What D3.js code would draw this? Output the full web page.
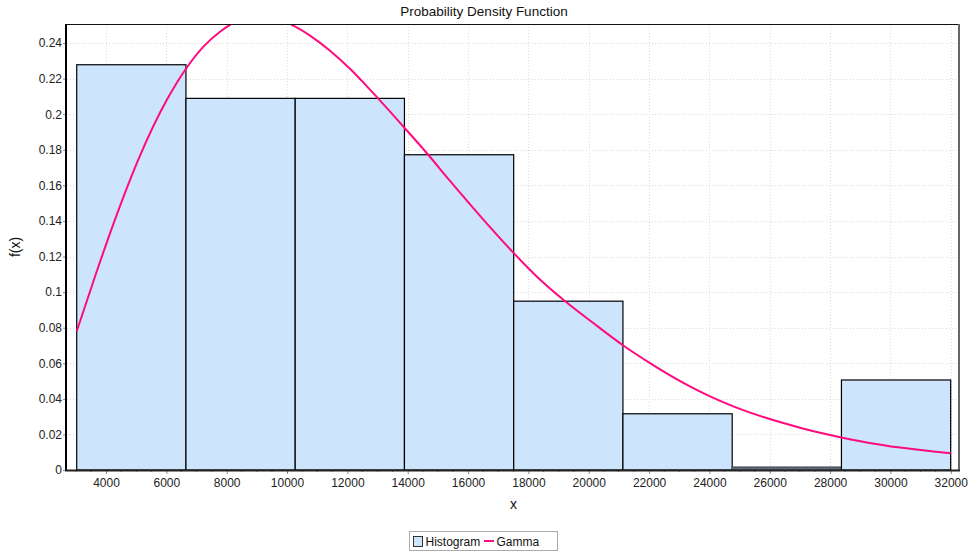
<!DOCTYPE html>
<html><head><meta charset="utf-8">
<script src="https://cdn.jsdelivr.net/npm/d3@7"></script>
<style>
body{margin:0;background:#fff;}
text{font-family:"Liberation Sans",Arial,sans-serif;}
</style></head>
<body><svg id="c" width="968" height="555"></svg>
<script>
// ---- data ----
const binEdges = [3029, 6650, 10271, 13892, 17513, 21134, 24755, 28376, 31997];
const histValues = [0.2278, 0.2089, 0.2089, 0.1772, 0.0949, 0.0316, 0.0, 0.0506];
const gammaX = [3029, 3650, 4255, 5117, 6022, 6628, 7238, 7789, 8176, 8600, 9050, 9500,
  10042, 10762, 11425, 12088, 12750, 13854, 14630, 15402, 16340, 17500, 18276, 19158,
  20152, 21146, 22031, 23135, 24020, 24792, 25899, 27003, 28107, 29214, 30318, 31422, 31997];
const gammaY = [0.078, 0.1095, 0.1388, 0.1763, 0.2082, 0.225, 0.2381, 0.2465, 0.2509, 0.2543, 0.2556, 0.2547,
  0.2512, 0.2442, 0.2357, 0.2255, 0.2138, 0.1931, 0.1782, 0.1625, 0.1440, 0.1222, 0.1088, 0.0957,
  0.0826, 0.0700, 0.0601, 0.0490, 0.0414, 0.0358, 0.0292, 0.0238, 0.0193, 0.0155, 0.0126, 0.0104, 0.0094];
const xTicks = [4000, 6000, 8000, 10000, 12000, 14000, 16000, 18000, 20000, 22000, 24000, 26000, 28000, 30000, 32000];
const yTicks = [0, 0.02, 0.04, 0.06, 0.08, 0.1, 0.12, 0.14, 0.16, 0.18, 0.2, 0.22, 0.24];
const title = "Probability Density Function";
const xLabel = "x", yLabel = "f(x)";
const legendLabels = ["Histogram", "Gamma"];

// ---- layout ----
const W = 968, H = 555;
const m = {left: 67, top: 24, right: 8, bottom: 85};
const svg = d3.select("#c");
const x = d3.scaleLinear().domain([2707, 32306]).range([m.left, W - m.right]);
const y = d3.scaleLinear().domain([0, 0.2507]).range([H - m.bottom, m.top]);
const x0 = m.left, x1 = W - m.right, y0 = H - m.bottom, y1 = m.top;

svg.append("defs").append("clipPath").attr("id", "clip")
  .append("rect").attr("x", x0).attr("y", y1).attr("width", x1 - x0).attr("height", y0 - y1);

// grid
const grid = svg.append("g").attr("stroke", "#dcdcdc").attr("stroke-dasharray", "1,2").attr("stroke-width", 1);
grid.selectAll(".gx").data(xTicks).join("line")
  .attr("x1", d => Math.round(x(d)) + 0.5).attr("x2", d => Math.round(x(d)) + 0.5)
  .attr("y1", y1).attr("y2", y0);
grid.selectAll(".gy").data(yTicks.slice(1)).join("line")
  .attr("y1", d => Math.round(y(d)) + 0.5).attr("y2", d => Math.round(y(d)) + 0.5)
  .attr("x1", x0).attr("x2", x1);

// bars
const bins = histValues.map((v, i) => ({x0: binEdges[i], x1: binEdges[i + 1], v}));
svg.append("g").selectAll("rect").data(bins).join("rect")
  .attr("x", d => x(d.x0)).attr("width", d => x(d.x1) - x(d.x0))
  .attr("y", d => Math.min(y(d.v), y(0) - 3)).attr("height", d => Math.max(y(0) - y(d.v), 3))
  .attr("fill", d => d.v === 0 ? "#5d6874" : "#cce5fc")
  .attr("stroke", d => d.v === 0 ? "#4a545e" : "#000").attr("stroke-width", 1.2);

// gamma curve
const pts = gammaX.map((d, i) => [d, gammaY[i]]);
svg.append("path").datum(pts)
  .attr("clip-path", "url(#clip)")
  .attr("fill", "none").attr("stroke", "#ff0a7f").attr("stroke-width", 2)
  .attr("d", d3.line().x(d => x(d[0])).y(d => y(d[1])).curve(d3.curveMonotoneX));

// frame
svg.append("line").attr("x1", x0).attr("x2", x1).attr("y1", y1 + 0.5).attr("y2", y1 + 0.5).attr("stroke", "#111");
svg.append("line").attr("x1", x1 - 1).attr("x2", x1 - 1).attr("y1", y1).attr("y2", y0).attr("stroke", "#666").attr("stroke-width", 2);

// axes
const xAxis = d3.axisBottom(x).tickValues(xTicks).tickSize(4).tickPadding(4).tickFormat(d3.format("d"));
const gx = svg.append("g").attr("transform", `translate(0,${y0})`).call(xAxis);
const yAxis = d3.axisLeft(y).tickValues(yTicks).tickSize(4).tickPadding(1).tickFormat(d => d === 0 ? "0" : String(+d.toFixed(2)));
const gy = svg.append("g").attr("transform", `translate(${x0},0)`).call(yAxis);
[gx, gy].forEach(g => {
  g.select(".domain").remove();
  g.selectAll(".tick line").attr("stroke", "#888");
  g.selectAll(".tick text").attr("font-size", 12).attr("fill", "#222").attr("font-family", "'Liberation Sans',Arial,sans-serif");
});
// minor ticks
const xMinor = d3.range(3000, 32306, 500).filter(v => v % 2000 !== 0);
svg.append("g").selectAll("line").data(xMinor).join("line")
  .attr("x1", d => x(d)).attr("x2", d => x(d)).attr("y1", y0).attr("y2", y0 + 2).attr("stroke", "#888");
const yMinor = d3.range(0.004, 0.2507, 0.004).filter(v => Math.abs(v / 0.02 - Math.round(v / 0.02)) > 1e-6);
svg.append("g").selectAll("line").data(yMinor).join("line")
  .attr("y1", d => y(d)).attr("y2", d => y(d)).attr("x1", x0 - 2).attr("x2", x0).attr("stroke", "#888");
// axis lines
svg.append("line").attr("x1", x0 - 1).attr("x2", x0 - 1).attr("y1", y1).attr("y2", y0 + 1).attr("stroke", "#000").attr("stroke-width", 2);
svg.append("line").attr("x1", x0 - 2).attr("x2", x1).attr("y1", y0 + 0.5).attr("y2", y0 + 0.5).attr("stroke", "#222").attr("stroke-width", 2);

// title & labels
svg.append("text").attr("x", 484).attr("y", 16).attr("text-anchor", "middle").attr("font-size", 13.5).attr("fill", "#111").text(title);
svg.append("text").attr("x", (x0 + x1) / 2).attr("y", 509).attr("text-anchor", "middle").attr("font-size", 14).attr("fill", "#111").text(xLabel);
svg.append("text").attr("transform", `translate(20,${(y0 + y1) / 2}) rotate(-90)`).attr("text-anchor", "middle").attr("font-size", 14).attr("fill", "#111").text(yLabel);

// legend
const lg = svg.append("g");
lg.append("rect").attr("x", 409.5).attr("y", 531.5).attr("width", 148).attr("height", 19).attr("fill", "#fff").attr("stroke", "#aaa");
lg.append("rect").attr("x", 413.5).attr("y", 536.5).attr("width", 9).attr("height", 10).attr("fill", "#cce5fc").attr("stroke", "#333");
lg.append("text").attr("x", 425.5).attr("y", 546).attr("font-size", 12).attr("fill", "#111").text(legendLabels[0]);
lg.append("line").attr("x1", 484).attr("x2", 494).attr("y1", 541).attr("y2", 541).attr("stroke", "#ff0a7f").attr("stroke-width", 2);
lg.append("text").attr("x", 496.5).attr("y", 546).attr("font-size", 12).attr("fill", "#111").text(legendLabels[1]);
</script></body></html>
